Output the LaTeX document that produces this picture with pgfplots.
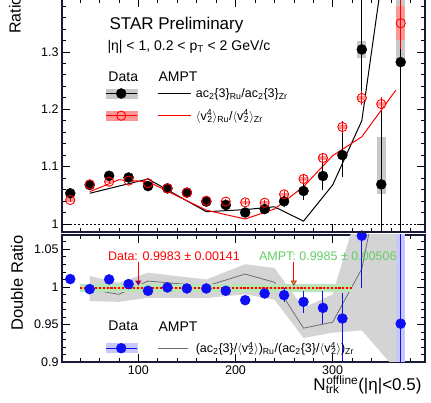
\documentclass[border=0pt]{standalone}
\usepackage{fontspec}
\setmainfont{Liberation Sans}
\usepackage{pgfplots}
\pgfplotsset{compat=1.18}
\usepackage{pgfplotstable}
\usetikzlibrary{arrows.meta}

\definecolor{framec}{RGB}{25,25,60}
\definecolor{boxgray}{RGB}{200,200,200}
\definecolor{bandgray}{RGB}{212,212,212}
\definecolor{boxred}{RGB}{255,150,150}
\definecolor{boxblue}{RGB}{200,200,250}
\definecolor{dblue}{RGB}{15,15,245}
\definecolor{ampgray}{RGB}{110,110,110}
\definecolor{fitgreen}{RGB}{185,230,185}
\definecolor{fitmid}{RGB}{225,200,130}
\definecolor{txtgreen}{RGB}{100,205,100}

\newcommand{\fs}[1]{\fontsize{#1}{#1}\selectfont}
\newcommand{\vfour}{$\langle$v\textsuperscript{\rlap{4}}\textsubscript{2}$\rangle$}

% ac2{3} ratio Ru/Zr: x y stat+ stat- sys+ sys-
\pgfplotstableread{
x y ep em sp sm
30 1.0535 0.003 0.003 0.003 0.003
50 1.068 0.003 0.003 0.003 0.003
70 1.084 0.003 0.003 0.003 0.003
90 1.081 0.003 0.003 0.003 0.003
110 1.066 0.003 0.003 0.003 0.003
130 1.062 0.003 0.003 0.003 0.003
150 1.0546 0.003 0.003 0.003 0.003
170 1.039 0.004 0.004 0.003 0.003
190 1.033 0.004 0.004 0.003 0.003
210 1.020 0.005 0.005 0.003 0.003
230 1.026 0.006 0.006 0.003 0.003
250 1.0395 0.010 0.010 0.004 0.004
270 1.0575 0.016 0.016 0.004 0.004
290 1.0836 0.025 0.025 0.005 0.005
310 1.120 0.039 0.039 0.006 0.006
330 1.304 0.10 0.085 0.014 0.014
350 1.069 0.138 0.12 0.083 0.016
370 1.282 0.35 0.35 0.12 0.0
}\acdata

% <v2^4> ratio Ru/Zr
\pgfplotstableread{
x y ep em sp sm
30 1.0418 0.004 0.004 0.003 0.003
50 1.069 0.003 0.003 0.003 0.003
70 1.0737 0.003 0.003 0.003 0.003
90 1.0755 0.003 0.003 0.003 0.003
110 1.071 0.003 0.003 0.003 0.003
130 1.062 0.003 0.003 0.003 0.003
150 1.0546 0.003 0.003 0.003 0.003
170 1.0406 0.004 0.004 0.003 0.003
190 1.039 0.004 0.004 0.003 0.003
210 1.0377 0.005 0.005 0.003 0.003
230 1.037 0.005 0.005 0.003 0.003
250 1.0517 0.006 0.006 0.003 0.003
270 1.0784 0.007 0.007 0.003 0.003
290 1.115 0.008 0.008 0.003 0.003
310 1.169 0.010 0.010 0.004 0.004
330 1.2195 0.012 0.012 0.004 0.004
350 1.209 0.012 0.012 0.004 0.004
370 1.3497 0.045 0.045 0.03 0.03
}\vdata

% double ratio
\pgfplotstableread{
x y ep em sp sm
30 1.0103 0.004 0.004 0.002 0.002
50 0.9969 0.002 0.002 0.001 0.001
70 1.0098 0.002 0.002 0.001 0.001
90 1.0036 0.003 0.003 0.001 0.001
110 0.9947 0.002 0.002 0.001 0.001
130 0.9991 0.002 0.002 0.001 0.001
150 0.9978 0.002 0.002 0.001 0.001
170 0.9978 0.002 0.002 0.001 0.001
190 0.9947 0.003 0.003 0.001 0.001
210 0.9822 0.004 0.004 0.001 0.001
230 0.9911 0.005 0.005 0.001 0.001
250 0.9889 0.009 0.009 0.002 0.002
270 0.980 0.015 0.015 0.002 0.002
290 0.972 0.022 0.022 0.002 0.002
310 0.9578 0.034 0.06 0.002 0.002
330 1.068 0.07 0.07 0.008 0.008
370 0.951 0.2 0.2 0.2 0.2
}\drdata

\pgfplotsset{
  rootaxis/.style={
    scale only axis, width=363pt,
    xmin=21.5, xmax=395,
    axis line style={framec, line width=1.1pt},
    tick style={black, line width=0.5pt},
    major tick length=8pt, minor tick length=4pt,
    xtick={100,200,300},
    minor xtick={40,60,...,380},
    ticklabel style={font=\fs{12.5}},
    /pgf/number format/assume math mode=true,
  },
  syst/.style={forget plot, draw=none, mark=none,
    error bars/y dir=both, error bars/y explicit, error bars/error mark=none,
    error bars/error bar style={draw=#1, line width=9pt, line cap=butt}},
  stat/.style={forget plot, only marks,
    error bars/y dir=both, error bars/y explicit, error bars/error mark=none,
    error bars/error bar style={draw=#1, line width=1pt}},
}

\begin{document}
\begin{tikzpicture}[x=1pt,y=1pt]
\useasboundingbox (-62pt,-41pt) rectangle (369pt,362pt);
\clip (-62pt,-41pt) rectangle (369pt,362pt);

% ---------------- bottom panel: double ratio
\begin{axis}[rootaxis, at={(0pt,0pt)}, anchor=south west, height=127pt,
  ymin=0.9, ymax=1.0689,
  ytick={0.9,0.95,1,1.05}, yticklabels={0.9,0.95,1,1.05},
  minor ytick={0.91,0.92,...,1.065},
  xticklabels={100,200,300},
  legend style={at={(0.1185,0.157)}, anchor=north west, draw=none, fill=none,
    inner sep=0pt, nodes={inner sep=0pt}, legend columns=2, font=\fs{12.5},
    /tikz/every even column/.append style={column sep=19pt}},
  legend cell align=left,
]
% AMPT band
\addplot[forget plot, fill=bandgray, draw=none] coordinates {
 (50,1.0143) (80,1.0053) (110,1.0187) (170,1.0098) (210,1.030) (240,1.025)
 (270,0.972) (300,0.990) (330,1.12) (365,1.5)
 (365,0.89) (330,0.942) (300,0.939) (270,0.932) (240,0.983) (210,0.990)
 (170,0.985) (110,0.9853) (80,0.980) (50,0.981)} -- cycle;
\addplot[forget plot, ampgray, line width=0.8pt] coordinates {
 (50,0.9965) (80,0.990) (110,1.0076) (170,1.001) (210,1.017) (240,1.006)
 (270,0.945) (300,0.953) (330,1.024) (365,1.25)};
% fits
\addplot[forget plot, fill=fitgreen, draw=none] coordinates {
 (40,0.99324) (320,0.99324) (320,1.00336) (40,1.00336)} -- cycle;
\addplot[forget plot, fill=fitmid, draw=none] coordinates {
 (40,0.99689) (320,0.99689) (320,0.99971) (40,0.99971)} -- cycle;
\addplot[forget plot, red, line width=2.4pt, dash pattern=on 2.2pt off 1.6pt]
 coordinates {(40,0.9983) (320,0.9983)};
% data
\addplot[syst=boxblue] table[x=x, y=y, y error plus=sp, y error minus=sm] {\drdata};
\addplot[stat=dblue, mark=*, mark size=5pt, mark options={dblue}]
 table[x=x, y=y, y error plus=ep, y error minus=em] {\drdata};

\node[text=red, font=\fs{12.5}] at (axis cs:136.7,1.041) {Data: 0.9983 ± 0.00141};
\node[text=txtgreen, font=\fs{12.5}] at (axis cs:295,1.041) {AMPT: 0.9985 ± 0.00506};
\draw[red, line width=0.6pt, -{Triangle[length=5pt,width=6pt,fill=dblue]}]
 (axis cs:100,1.0335) -- (axis cs:100,1.0015);
\draw[red, line width=0.6pt, -{Triangle[length=5pt,width=6pt,fill=txtgreen]}]
 (axis cs:260,1.0335) -- (axis cs:260,1.0015);

\node[anchor=west, font=\fs{14}] at (axis cs:65.7,0.9476) {Data};
\node[anchor=west, font=\fs{14}] at (axis cs:117.2,0.9476) {AMPT};
\addlegendimage{dblue, legend image code/.code={
  \fill[boxblue] (0pt,-4.5pt) rectangle (31pt,4.5pt);
  \draw[dblue, line width=1pt] (0pt,0pt) -- (31pt,0pt);
  \fill[dblue] (15.5pt,0pt) circle (5pt);}}
\addlegendentry{}
\addlegendimage{ampgray, legend image code/.code={
  \draw[ampgray, line width=0.8pt] (0pt,0pt) -- (30pt,0pt);
  \path (38pt,0pt);}}
\addlegendentry{(ac\textsubscript{2}\{3\}/\vfour)\textsubscript{Ru}/(ac\textsubscript{2}\{3\}/\vfour)\textsubscript{Zr}}
\end{axis}

% ---------------- top panel: ratios
\begin{axis}[rootaxis, at={(0pt,130pt)}, anchor=south west, height=233.2pt,
  ymin=0.98606, ymax=1.3923,
  ytick={1,1.1,1.2,1.3}, yticklabels={1,1.1,1.2,1.3},
  minor ytick={1.02,1.04,...,1.385},
  xticklabels={},
  legend style={at={(0.1185,0.6175)}, anchor=north west, draw=none, fill=none,
    inner sep=0pt, nodes={inner sep=0pt}, legend columns=2, font=\fs{12.5},
    row sep=11pt,
    /tikz/every even column/.append style={column sep=19pt}},
  legend cell align=left,
]
\addplot[forget plot, black, line width=0.5pt, dash pattern=on 2pt off 2pt]
 coordinates {(21.5,1) (395,1)};
% AMPT
\addplot[forget plot, black, line width=1pt] coordinates {
 (50,1.0535) (80,1.066) (110,1.0784) (170,1.0214) (210,1.025) (240,1.030)
 (270,1.005) (300,1.068) (330,1.180) (365,1.6)};
\addplot[forget plot, red, line width=1pt] coordinates {
 (50,1.0563) (80,1.077) (110,1.0737) (170,1.024) (210,1.0087) (240,1.026)
 (270,1.065) (300,1.119) (330,1.152) (365,1.233)};
% data
\addplot[syst=boxgray] table[x=x, y=y, y error plus=sp, y error minus=sm] {\acdata};
\addplot[syst=boxred] table[x=x, y=y, y error plus=sp, y error minus=sm] {\vdata};
\addplot[stat=black, mark=*, mark size=5pt, mark options={black}]
 table[x=x, y=y, y error plus=ep, y error minus=em] {\acdata};
\addplot[stat=red, mark=o, mark size=4.6pt, mark options={red, line width=0.9pt}]
 table[x=x, y=y, y error plus=ep, y error minus=em] {\vdata};

\node[anchor=west, font=\fs{17}] at (axis cs:66.8,1.3467) {STAR Preliminary};
\node[anchor=west, font=\fs{14}] at (axis cs:64.7,1.308) {|η| < 1, 0.2 < p\textsubscript{T} < 2 GeV/c};
\node[anchor=west, font=\fs{14}] at (axis cs:65.7,1.256) {Data};
\node[anchor=west, font=\fs{14}] at (axis cs:117.2,1.256) {AMPT};

\addlegendimage{black, legend image code/.code={
  \fill[boxgray] (0pt,-4.5pt) rectangle (31pt,4.5pt);
  \draw[black, line width=1pt] (0pt,0pt) -- (31pt,0pt);
  \fill[black] (15.5pt,0pt) circle (5pt);}}
\addlegendentry{}
\addlegendimage{black, legend image code/.code={
  \draw[black, line width=1pt] (0pt,0pt) -- (33pt,0pt);
  \path (38pt,0pt);}}
\addlegendentry{ac\textsubscript{2}\{3\}\textsubscript{Ru}/ac\textsubscript{2}\{3\}\textsubscript{Zr}}
\addlegendimage{red, legend image code/.code={
  \fill[boxred] (0pt,-4.5pt) rectangle (31pt,4.5pt);
  \draw[red, line width=1pt] (0pt,0pt) -- (31pt,0pt);
  \draw[red, line width=0.9pt] (15.5pt,0pt) circle (4.6pt);}}
\addlegendentry{}
\addlegendimage{red, legend image code/.code={
  \draw[red, line width=1pt] (0pt,0pt) -- (33pt,0pt);
  \path (38pt,0pt);}}
\addlegendentry{\vfour\textsubscript{Ru}/\vfour\textsubscript{Zr}}
\end{axis}

% axis titles
\node[rotate=90, font=\fs{16}] at (-47pt,347pt) {Ratio};
\node[rotate=90, font=\fs{16.5}] at (-45pt,79pt) {Double Ratio};
\node[anchor=east, font=\fs{17}] at (363pt,-23pt)
 {N\textsubscript{\rlap{trk}}\textsuperscript{offline}(|η|<0.5)};
\end{tikzpicture}
\end{document}
